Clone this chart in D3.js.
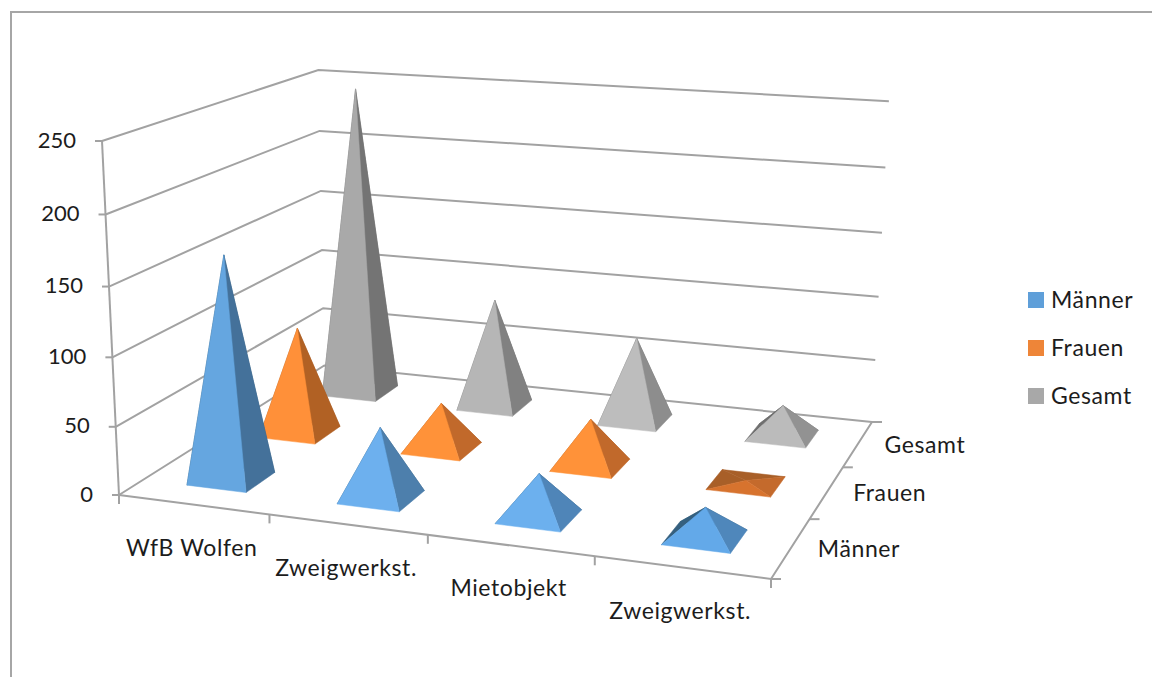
<!DOCTYPE html>
<html>
<head>
<meta charset="utf-8">
<style>
html,body{margin:0;padding:0;background:#fff;overflow:hidden}
svg{display:block}
text{font-family:Lato,sans-serif;font-size:23px;letter-spacing:0.6px;fill:#1c1c1c}
text.num{font-size:22px;letter-spacing:0}
</style>
<script src="https://cdn.jsdelivr.net/npm/d3@7/dist/d3.min.js"></script>
</head>
<body>
<svg id="chart" width="1152" height="677"></svg>
<script>
// Data
const categories = ["WfB Wolfen", "Zweigwerkst.", "Mietobjekt", "Zweigwerkst."];
const seriesNames = ["Männer", "Frauen", "Gesamt"];
const maenner = [164, 51, 31, 21];
const frauen = [82, 35, 35, 2];
const gesamt = [246, 86, 66, 24];
const valueTicks = [0, 50, 100, 150, 200, 250];

const seriesValues = [maenner, frauen, gesamt];

// Face colours by value: front face and lit side face for each series
const faceStyles = [
  {stops: [20, 28, 45, 160], front: ["#62a8e8", "#6cb0ee", "#6db1ef", "#65a6e0"], side: ["#4f87bb", "#5086ba", "#4d80ad", "#44719a"], back: "#35607f", swatch: "#5f9fd9"},
  {stops: [1, 32, 85], front: ["#d6722e", "#ff9239", "#ff9039"], side: ["#c46a2c", "#c26a2b", "#b06024"], back: "#a85f28", swatch: "#ee8538"},
  {stops: [27, 70, 88, 245], front: ["#bbbbbb", "#bdbdbd", "#b5b5b5", "#a9a9a9"], side: ["#929292", "#8c8c8c", "#808080", "#747474"], back: "#6f6f6f", swatch: "#a8a8a8"}
];
const axisColor = "#a2a2a2";

// Chart box seen in perspective: floor corners and the top of the left wall
const floorQuad = [[119, 495], [771, 579], [872, 422], [324.3, 365.5]];
const wallTopFront = [102, 141];
const wallTopBack = [318, 70];

function makeProjection(q, topF, topB) {
  const [p0, p1, p2, p3] = q;
  const dx1 = p1[0] - p2[0], dx2 = p3[0] - p2[0], sx = p0[0] - p1[0] + p2[0] - p3[0];
  const dy1 = p1[1] - p2[1], dy2 = p3[1] - p2[1], sy = p0[1] - p1[1] + p2[1] - p3[1];
  const det = dx1 * dy2 - dx2 * dy1;
  const g = (sx * dy2 - dx2 * sy) / det;
  const i = (dx1 * sy - sx * dy1) / det;
  const ax = p1[0] - p0[0] + g * p1[0], bx = p3[0] - p0[0] + i * p3[0], dx = p0[0];
  const ay = p1[1] - p0[1] + g * p1[1], by = p3[1] - p0[1] + i * p3[1], dy = p0[1];
  const k = (p3[1] * (1 + i) - dy - topB[1] * (1 + i) + topF[1]) / (topB[1] - topF[1]);
  const cy = topF[1] * (1 + k) - dy;
  const cx = topF[0] * (1 + k) - dx;
  return (u, v, h) => {
    const w = g * u + i * v + k * h + 1;
    return [(ax * u + bx * v + cx * h + dx) / w, (ay * u + by * v + cy * h + dy) / w];
  };
}
const project = makeProjection(floorQuad, wallTopFront, wallTopBack);

// Scales from data to box coordinates
const uBand = d3.scaleBand().domain(d3.range(categories.length)).range([0, 1]).paddingInner(0.6).paddingOuter(0.3);
const vBand = d3.scaleBand().domain(d3.range(seriesNames.length)).range([0, 1]).paddingInner(0.6).paddingOuter(0.3);
const hScale = d3.scaleLinear().domain([0, 250]).range([0, 1]);
const uEdge = d3.scaleLinear().domain([0, categories.length]).range([0, 1]);
const vEdge = d3.scaleLinear().domain([0, seriesNames.length]).range([0, 1]);

const svg = d3.select("#chart");
const line = d3.line();

// Outer frame of the chart area
svg.append("path").attr("d", "M11,677V12H1152").attr("fill", "none").attr("stroke", "#a6a6a6").attr("stroke-width", 2);

// Walls, gridlines and floor edges
const grid = svg.append("g").attr("fill", "none").attr("stroke", axisColor).attr("stroke-width", 2);
valueTicks.forEach(t => {
  const h = hScale(t);
  grid.append("path").attr("d", line([project(0, 0, h), project(0, 1, h), project(1, 1, h)]));
  const a = project(0, 0, h);
  grid.append("path").attr("d", line([[a[0] - 7, a[1]], a]));
  svg.append("text").attr("class", "num").attr("x", a[0] - 26).attr("y", a[1] - 1).attr("text-anchor", "end").attr("dy", "0.35em").text(t);
});
grid.append("path").attr("d", line([project(0, 0, 0), project(0, 0, 1)]));
grid.append("path").attr("d", line([project(0, 0, 0), project(1, 0, 0), project(1, 1, 0)]));

// Tick marks along the front and right floor edges
d3.range(categories.length + 1).forEach(c => {
  const a = project(uEdge(c), 0, 0);
  grid.append("path").attr("d", line([a, [a[0], a[1] + 9]]));
});
d3.range(seriesNames.length + 1).forEach(s => {
  const a = project(1, vEdge(s), 0);
  grid.append("path").attr("d", line([a, [a[0] + 10, a[1]]]));
});

// Category and series labels on the floor edges
categories.forEach((name, c) => {
  const a = project(uEdge(c + 0.5), 0, 0);
  svg.append("text").attr("x", a[0] - 1.5).attr("y", a[1] + 43).attr("text-anchor", "middle").attr("dy", "0.35em").text(name);
});
const seriesLabelOffset = [68, 63, 67];
seriesNames.forEach((name, s) => {
  const a = project(1, vEdge(s + 0.5), 0);
  svg.append("text").attr("x", a[0] + seriesLabelOffset[s]).attr("y", a[1] + 1).attr("text-anchor", "middle").attr("dy", "0.35em").text(name);
});

// Pyramids, far series first, each with its four faces back to front
const marks = svg.append("g");
d3.range(seriesNames.length).reverse().forEach(s => {
  const st = faceStyles[s];
  const frontColor = d3.scaleLinear().domain(st.stops).range(st.front).clamp(true);
  const sideColor = d3.scaleLinear().domain(st.stops).range(st.side).clamp(true);
  categories.forEach((_, c) => {
    const value = seriesValues[s][c];
    const u0 = uBand(c), u1 = u0 + uBand.bandwidth();
    const v0 = vBand(s), v1 = v0 + vBand.bandwidth();
    const fl = project(u0, v0, 0), fr = project(u1, v0, 0), br = project(u1, v1, 0), bl = project(u0, v1, 0);
    const apex = project((u0 + u1) / 2, (v0 + v1) / 2, hScale(value));
    const faces = [
      {pts: [bl, br, apex], fill: st.back},
      {pts: [fl, bl, apex], fill: st.back},
      {pts: [fr, br, apex], fill: sideColor(value)},
      {pts: [fl, fr, apex], fill: frontColor(value)}
    ];
    marks.selectAll(null).data(faces).enter().append("path")
      .attr("d", d => line(d.pts) + "Z")
      .attr("fill", d => d.fill)
      .attr("stroke", d => d.fill)
      .attr("stroke-width", 0.5);
  });
});

// Legend
const legendY = d3.scalePoint().domain(seriesNames).range([300, 396]);
seriesNames.forEach((name, s) => {
  svg.append("rect").attr("x", 1028).attr("y", legendY(name) - 8).attr("width", 16).attr("height", 16).attr("fill", faceStyles[s].swatch);
  svg.append("text").attr("x", 1051).attr("y", legendY(name)).attr("dy", "0.35em").text(name);
});
</script>
</body>
</html>
